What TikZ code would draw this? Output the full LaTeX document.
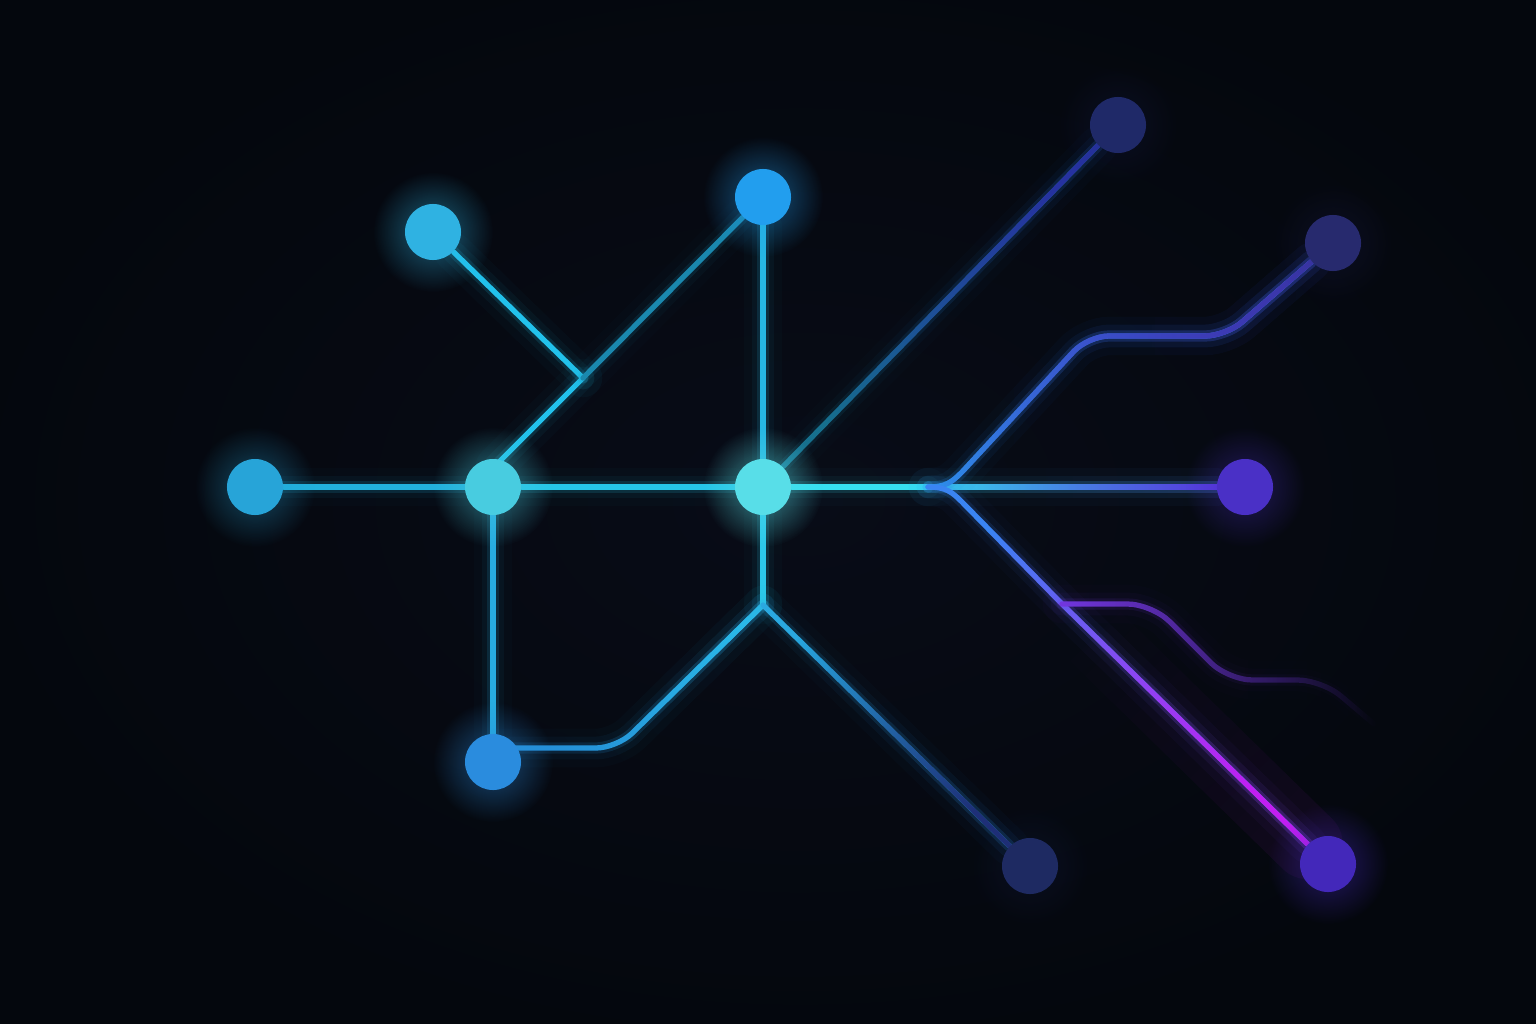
\documentclass[tikz,border=0pt]{standalone}
\usetikzlibrary{fadings}
\pgfdeclarelayer{back}
\pgfdeclarelayer{lines}
\pgfsetlayers{back,lines,main}
\definecolor{bgA}{HTML}{04070D}
\definecolor{bgB}{HTML}{080C17}
\definecolor{cA}{HTML}{2FB2E2}
\definecolor{cB}{HTML}{229EEE}
\definecolor{cC}{HTML}{27A4D8}
\definecolor{cD}{HTML}{48CCE0}
\definecolor{cE}{HTML}{58DEE8}
\definecolor{cF}{HTML}{2A8CDE}
\definecolor{cG}{HTML}{1F2968}
\definecolor{cH}{HTML}{272A6E}
\definecolor{cI}{HTML}{4A30C6}
\definecolor{cJ}{HTML}{1E2A62}
\definecolor{cK}{HTML}{4328BA}
\definecolor{lnCD}{HTML}{22B0DC}
\definecolor{lnDE}{HTML}{26C6E8}
\definecolor{lnAJ}{HTML}{22C2EC}
\definecolor{lnJB}{HTML}{1A88AE}
\definecolor{lnBE}{HTML}{26B6E2}
\definecolor{lnDF}{HTML}{27ACE0}
\definecolor{lnFa}{HTML}{2590D8}
\definecolor{lnFb}{HTML}{2AB8E8}
\definecolor{lnEJ}{HTML}{2CC8EA}
\definecolor{lnJa}{HTML}{2AA8E0}
\definecolor{lnJb}{HTML}{1E2F78}
\definecolor{lnGa}{HTML}{16708E}
\definecolor{lnGb}{HTML}{2632A0}
\definecolor{lnES}{HTML}{36DFF0}
\definecolor{lnSI}{HTML}{5636DC}
\definecolor{lnUa}{HTML}{2C9CF2}
\definecolor{lnUb}{HTML}{4E3EEE}
\definecolor{lnUc}{HTML}{3A36A6}
\definecolor{lnLa}{HTML}{3A84F2}
\definecolor{lnLb}{HTML}{C21EF2}
\definecolor{lnMid}{HTML}{7236DE}
\tikzfading[name=fR, left color=transparent!100, right color=transparent!0]
\tikzfading[name=fEnd, left color=transparent!100, middle color=transparent!100, right color=transparent!0]
\tikzfading[name=fOut, left color=transparent!0, middle color=transparent!35, right color=transparent!100]
\tikzfading[name=glowF, inner color=transparent!0, outer color=transparent!100]
\tikzset{
  core/.style={line width=1.5pt, line cap=round, line join=round},
  haloA/.style={line width=3.2pt, draw opacity=0.14, line cap=round, line join=round},
  haloB/.style={line width=6.5pt, draw opacity=0.05, line cap=round, line join=round},
  haloC/.style={line width=11pt, draw opacity=0.025, line cap=round, line join=round},
  dot/.style={circle, minimum size=0.56cm, inner sep=0pt, draw=none},
}
\newcommand\slink[2]{\draw[haloC,#1] #2; \draw[haloB,#1] #2; \draw[haloA,#1] #2; \draw[core,#1] #2;}
\newcommand\glink[3]{\slink{#1}{#3}\slink{#2}{#3}}
\newcommand\gdot[4]{%
  \fill[#3, opacity=#4, path fading=glowF] (#2) circle[radius=0.6cm];
  \node[dot, fill=#3] (#1) at (#2) {};}
\begin{document}
\begin{tikzpicture}[x=0.01cm,y=-0.01cm]
\useasboundingbox (0,0) rectangle (1536,1024);
\begin{pgfonlayer}{back}
  \fill[bgA] (0,0) rectangle (1536,1024);
  \shade[inner color=bgB, outer color=bgA] (800,500) ellipse [x radius=8.5cm, y radius=5.6cm];
\end{pgfonlayer}

% nodes
\gdot{nA}{433,232}{cA}{0.5}
\gdot{nB}{763,197}{cB}{0.5}
\gdot{nC}{255,487}{cC}{0.42}
\gdot{nD}{493,487}{cD}{0.55}
\gdot{nE}{763,487}{cE}{0.6}
\gdot{nF}{493,762}{cF}{0.5}
\gdot{nG}{1118,125}{cG}{0.22}
\gdot{nH}{1333,243}{cH}{0.22}
\gdot{nI}{1245,487}{cI}{0.4}
\gdot{nJ}{1030,866}{cJ}{0.22}
\gdot{nK}{1328,864}{cK}{0.5}

% junctions
\coordinate (jA) at (583,378);
\coordinate (Dt) at (495,466);
\coordinate (jB) at (763,605);
\coordinate (Fo) at (500,748);
\coordinate (Fc) at (617,748);
\coordinate (S) at (928,487);
\coordinate (U1) at (1088,336);
\coordinate (U2) at (1226,336);
\coordinate (L1) at (1062,604);
\coordinate (M1) at (1152,604);
\coordinate (M2) at (1228,680);
\coordinate (M3) at (1322,680);
\coordinate (M4) at (1374,724);

\begin{pgfonlayer}{lines}
  \slink{lnCD}{(nC) -- (nD)}
  \slink{lnDE}{(nD) -- (nE)}
  \slink{lnAJ}{(nA) -- (jA)}
  \slink{lnAJ}{(Dt) -- (jA)}
  \slink{lnJB}{(jA) -- (nB)}
  \slink{lnBE}{(nB) -- (nE)}
  \slink{lnDF}{(nD) -- (nF)}
  \glink{lnFa}{lnFb, path fading=fR, fading angle=30}{(Fo) [rounded corners=6pt] -- (Fc) -- (jB)}
  \slink{lnEJ}{(nE) -- (jB)}
  \glink{lnJa}{lnJb, path fading=fR, fading angle=-45}{(jB) -- (nJ)}
  \glink{lnGa}{lnGb, path fading=fR, fading angle=45}{(nE) -- (nG)}
  \slink{lnES}{(nE) -- (S)}
  \glink{lnES}{lnSI, path fading=fR}{(S) -- (nI) (1000,470) (1000,505)}
  % upper branch
  \glink{lnUa}{lnUb, path fading=fR}{(S) .. controls (946,487) and (952,482) .. (962,472) [rounded corners=6pt] -- (U1) -- (U2) -- (nH)}
  \slink{lnUc, path fading=fEnd}{(S) .. controls (946,487) and (952,482) .. (962,472) [rounded corners=6pt] -- (U1) -- (U2) -- (nH)}
  % lower branch
  \draw[line width=20pt, draw opacity=0.06, lnLb, line cap=round, path fading=fR, fading angle=-45] (L1) -- (nK);
  \glink{lnLa}{lnLb, path fading=fR, fading angle=-45}{(S) .. controls (946,487) and (952,492) .. (962,502) -- (L1) -- (nK)}
  % fading middle branch
  \slink{lnMid, path fading=fOut}{(L1) [rounded corners=7pt] -- (M1) -- (M2) -- (M3) -- (M4)}
\end{pgfonlayer}
\end{tikzpicture}
\end{document}
